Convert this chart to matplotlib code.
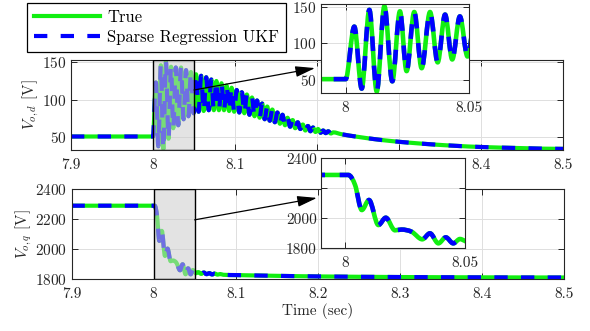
"""
Vod / Voq response: true vs sparse regression UKF, with zoom insets.
"""

import numpy as np
import matplotlib
matplotlib.use("Agg")
import matplotlib.pyplot as plt
from matplotlib.path import Path
from matplotlib.patches import PathPatch
from matplotlib.lines import Line2D

# ── Data ────────────────────────────────────────────────────
vod_t = [7.90, 8.0000, 8.0035, 8.0065, 8.0096, 8.0126, 8.0157, 8.0189, 8.0220,
         8.0247, 8.0278, 8.0308, 8.0342, 8.0373, 8.0403, 8.0432,
         8.0463, 8.0494, 8.0525, 8.0556, 8.0587, 8.0618, 8.0649, 8.0680,
         8.0711, 8.0742, 8.0773, 8.0804, 8.0835, 8.0866, 8.0897, 8.0928,
         8.0959, 8.0990, 8.1021, 8.1052, 8.1083, 8.1114, 8.1145, 8.1176,
         8.1207, 8.1238, 8.1269, 8.1300, 8.1331, 8.1362, 8.1393, 8.1424,
         8.1455, 8.1486, 8.1517, 8.1548, 8.1579, 8.1610, 8.1641, 8.1672,
         8.1703, 8.1734, 8.1765, 8.1796, 8.1827, 8.1858, 8.1889, 8.1920,
         8.1951, 8.1982, 8.2013, 8.2044, 8.2075, 8.2106, 8.2137, 8.2168,
         8.2199, 8.23, 8.25, 8.27, 8.29, 8.31, 8.34, 8.37, 8.40, 8.45, 8.50]
vod_v = [51, 51, 123, 38, 146, 34, 151, 48, 144,
         62, 143, 66, 143, 74, 139.5, 78,
         137, 82, 134, 84, 132, 85, 130, 86,
         127, 86, 125, 86, 122, 86, 119, 85,
         116, 84, 113, 83, 110, 82, 107, 80,
         103, 78, 99, 76, 95, 74, 91, 72,
         87, 70, 83, 68, 80, 66, 76, 64,
         73, 62, 70, 61, 67, 59, 65, 58,
         63, 57, 61, 56, 59, 55.5, 58, 55,
         56.5, 54, 50.5, 47.5, 45, 43, 40.5, 38.5, 37, 35.5, 34.5]

voq_t = [7.90, 8.0014, 8.0042, 8.0070, 8.0100, 8.0139, 8.0170, 8.0208, 8.0235,
         8.0278, 8.0322, 8.0354, 8.0389, 8.0420, 8.0451, 8.0479, 8.0500,
         8.0513, 8.0545, 8.0580, 8.0612, 8.0645, 8.0680, 8.0712, 8.0745,
         8.0780, 8.0812, 8.0850, 8.10, 8.15, 8.20, 8.30, 8.40, 8.50]
voq_v = [2289, 2289, 2222, 2055, 2122, 1955, 2004, 1920, 1925,
         1910, 1860, 1900, 1833, 1873, 1833, 1862, 1849,
         1840, 1848, 1836, 1845, 1834, 1841, 1832, 1838,
         1831, 1835, 1830, 1828, 1823, 1819, 1815, 1813, 1812]

main_xticks = [7.9, 8.0, 8.1, 8.2, 8.3, 8.4, 8.5]
main_xlabels = ["7.9", "8", "8.1", "8.2", "8.3", "8.4", "8.5"]
top_xlabels = ["7.9", "8", "8.1", "", "", "8.4", "8.5"]   # 8.2/8.3 sit under the inset
zoom_xticks = [8.0, 8.05]
zoom_xlabels = ["8", "8.05"]
vod_yticks = [50, 100, 150]
voq_yticks = [1800, 2000, 2200, 2400]
voq_zoom_ylabels = ["1800", "2000", "", "2400"]
series_names = ["True", "Sparse Regression UKF"]

# ── Style ────────────────────────────────────────────────────
GREEN = "#11ee11"
BLUE = "#0000ff"
INK = "#262626"
LW = 3.0
DASH = (0, (3.2, 3.2))

plt.rcParams["font.family"] = ["cmr10", "DejaVu Serif"]
plt.rcParams["mathtext.fontset"] = "cm"
plt.rcParams["axes.formatter.use_mathtext"] = True
plt.rcParams["font.size"] = 11


def smooth_path(t, v):
    """Cubic Hermite path through the points (flat tangent at extrema)."""
    t = np.asarray(t, float)
    v = np.asarray(v, float)
    n = len(t)
    m = np.zeros(n)
    for i in range(1, n - 1):
        d1 = v[i] - v[i - 1]
        d2 = v[i + 1] - v[i]
        if d1 * d2 > 0:
            m[i] = (v[i + 1] - v[i - 1]) / (t[i + 1] - t[i - 1])
    verts = [(t[0], v[0])]
    codes = [Path.MOVETO]
    for i in range(n - 1):
        h = t[i + 1] - t[i]
        verts += [(t[i] + h / 3, v[i] + m[i] * h / 3),
                  (t[i + 1] - h / 3, v[i + 1] - m[i + 1] * h / 3),
                  (t[i + 1], v[i + 1])]
        codes += [Path.CURVE4] * 3
    return Path(verts, codes)


def draw_pair(ax, t, v, lw=LW):
    p = smooth_path(t, v)
    ax.add_patch(PathPatch(p, fill=False, edgecolor=GREEN, lw=lw,
                           joinstyle="round", capstyle="butt", zorder=2))
    ax.add_patch(PathPatch(p, fill=False, edgecolor=BLUE, lw=lw,
                           linestyle=DASH, joinstyle="round",
                           capstyle="butt", zorder=2.1))


def style_axes(ax):
    ax.grid(True, color="#dedede", lw=0.7)
    ax.set_axisbelow(True)
    ax.tick_params(direction="in", top=True, right=True, length=4,
                   width=0.7, colors=INK, labelcolor=INK, pad=3)
    ax.tick_params(axis="x", pad=6)
    for s in ax.spines.values():
        s.set_color(INK)
        s.set_linewidth(0.8)


W, H = 590, 331
fig = plt.figure(figsize=(W / 100, H / 100), dpi=100)

# ── Main axes ────────────────────────────────────────────────
ax_d = fig.add_axes([71 / W, 1 - 150 / H, 492 / W, 90 / H])
ax_q = fig.add_axes([71.5 / W, 1 - 279.3 / H, 492.5 / W, 90.3 / H])

draw_pair(ax_d, vod_t, vod_v)
draw_pair(ax_q, voq_t, voq_v)

for ax in (ax_d, ax_q):
    ax.set_xlim(7.9, 8.5)
    ax.set_xticks(main_xticks)
    ax.axvspan(8.0, 8.05, facecolor=(0.8, 0.8, 0.8, 0.55),
               edgecolor="k", lw=1.0, zorder=3)
    style_axes(ax)
ax_d.set_xticklabels(top_xlabels)
ax_q.set_xticklabels(main_xlabels)

ax_d.set_ylim(33, 153)
ax_d.set_yticks(vod_yticks)
ax_d.set_ylabel(r"$V_{o,d}$ [V]", color=INK, labelpad=1)

ax_q.set_ylim(1800, 2400)
ax_q.set_yticks(voq_yticks)
ax_q.set_ylabel(r"$V_{o,q}$ [V]", color=INK, labelpad=1)
ax_q.set_xlabel("Time (sec)", color=INK, labelpad=1)

# ── Insets ───────────────────────────────────────────────────
in_d = fig.add_axes([321 / W, 1 - 93 / H, 148 / W, 89 / H])
draw_pair(in_d, vod_t, vod_v, lw=3.3)
in_d.set_xlim(7.99, 8.05)
in_d.set_ylim(32, 154)
in_d.set_yticks(vod_yticks)

in_q = fig.add_axes([321 / W, 1 - 248.3 / H, 144 / W, 90 / H])
draw_pair(in_q, voq_t, voq_v, lw=3.3)
in_q.set_xlim(7.99, 8.05)
in_q.set_ylim(1800, 2400)
in_q.set_yticks(voq_yticks)
in_q.set_yticklabels(voq_zoom_ylabels)

for ax in (in_d, in_q):
    ax.set_xticks(zoom_xticks)
    ax.set_xticklabels(zoom_xlabels)
    style_axes(ax)

# ── Arrows main -> inset ─────────────────────────────────────
arrow = dict(arrowstyle="-|>,head_length=0.8,head_width=0.22", color="k",
             lw=0.9, mutation_scale=15, shrinkA=0, shrinkB=0)
ax_d.annotate("", xy=(-0.04, 0.28), xycoords=in_d.transAxes,
              xytext=(8.05, 113), textcoords="data", arrowprops=arrow,
              zorder=5)
ax_q.annotate("", xy=(-0.028, 0.56), xycoords=in_q.transAxes,
              xytext=(8.05, 2195), textcoords="data", arrowprops=arrow,
              zorder=5)

# ── Legend ───────────────────────────────────────────────────
handles = [Line2D([], [], color=GREEN, lw=LW),
           Line2D([], [], color=BLUE, lw=LW, linestyle=DASH)]
leg = fig.legend(handles, series_names, loc="upper left",
                 bbox_to_anchor=(27 / W, 1 - 3 / H), borderaxespad=0,
                 fancybox=False, edgecolor="k", framealpha=1,
                 handlelength=4.0, fontsize=12, labelspacing=0.3,
                 borderpad=0.4, handletextpad=0.4)
leg.get_frame().set_linewidth(0.9)

fig.savefig("out.png", dpi=100)
